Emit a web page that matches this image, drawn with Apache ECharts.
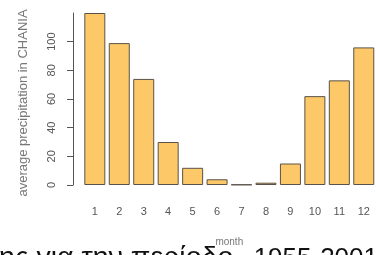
<!DOCTYPE html>
<html>
<head>
<meta charset="utf-8">
<script src="https://cdn.jsdelivr.net/npm/echarts@6/dist/echarts.min.js"></script>
<style>
  html, body { margin: 0; padding: 0; background: #fff; }
  #main { width: 376px; height: 255px; }
</style>
</head>
<body>
<div id="main"></div>
<script>
// months and mean monthly rainfall (mm), Chania 1955-2001
var months = ['1', '2', '3', '4', '5', '6', '7', '8', '9', '10', '11', '12'];
var rainfall = [120, 99, 74, 30, 12, 4, 0.3, 1.6, 15, 62, 73, 96];
var yTicks = [0, 20, 40, 60, 80, 100, 120];

// caption text that overflows the bottom edge of the screenshot
var captionText = 'ης για την περίοδο';
var captionYears = '1955-2001';

var chart = echarts.init(document.getElementById('main'));

var option = {
    backgroundColor: '#fff',
    animation: false,
    grid: { left: 82.6, top: 13, width: 294.6, bottom: 70 },
    xAxis: {
        type: 'category',
        data: months,
        name: 'month',
        nameLocation: 'middle',
        nameGap: 52,
        z: 10,
        nameTextStyle: { color: '#777', fontSize: 10, fontFamily: 'Liberation Sans' },
        axisLine: { show: false },
        axisTick: { show: false },
        axisLabel: { color: '#555', fontSize: 11, margin: 21, fontFamily: 'Liberation Sans' }
    },
    yAxis: {
        type: 'value',
        min: yTicks[0],
        max: yTicks[yTicks.length - 1],
        interval: 20,
        offset: 9.6,
        name: 'average precipitation in CHANIA',
        nameLocation: 'middle',
        nameGap: 43,
        nameTextStyle: { color: '#777', fontSize: 13, fontFamily: 'Liberation Sans', padding: [0, 8, 0, 0] },
        splitLine: { show: false },
        axisLine: { show: true, lineStyle: { color: '#555', width: 1 } },
        axisTick: { show: true, length: 6, lineStyle: { color: '#555' } },
        // top tick (120) has no label in the original
        axisLabel: { color: '#555', fontSize: 11, rotate: 90, margin: 16, showMaxLabel: false, fontFamily: 'Liberation Sans' }
    },
    series: [{
        type: 'bar',
        data: rainfall,
        barWidth: 21,
        itemStyle: { color: '#fcc868', borderColor: '#5a5248', borderWidth: 1 }
    }],
    graphic: [{
        type: 'text',
        left: -1,
        top: 244,
        z: -10,
        style: { text: captionText, fill: '#111', font: '28.5px "Liberation Sans"' }
    }, {
        type: 'text',
        right: -2,
        top: 246,
        z: -10,
        style: { text: captionYears, fill: '#111', font: '26px "Liberation Sans"' }
    }]
};

chart.setOption(option);
</script>
</body>
</html>
